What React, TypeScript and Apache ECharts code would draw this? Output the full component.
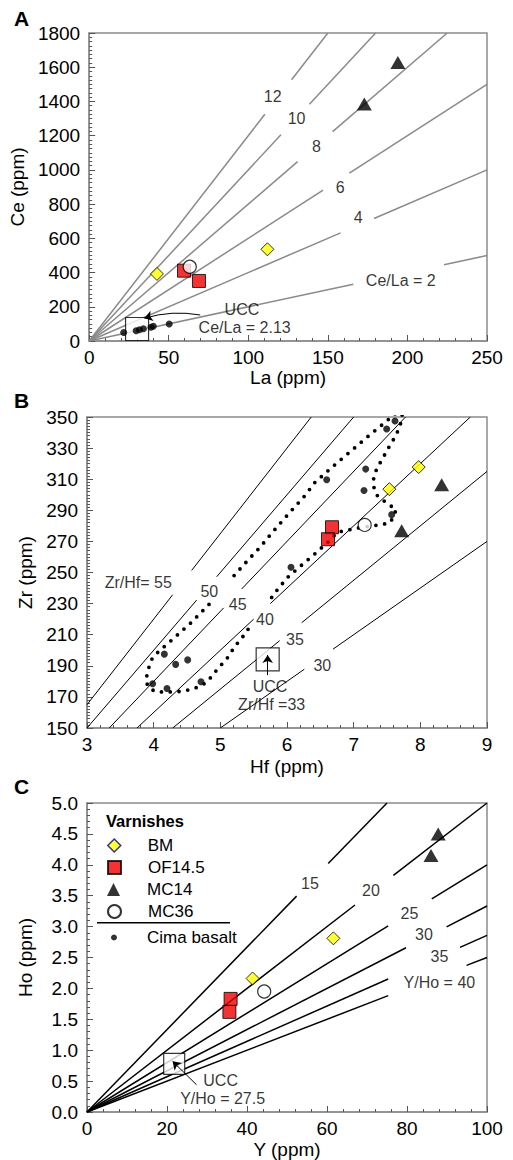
import React, { useEffect, useRef } from "react";
import * as echarts from "echarts";

const FONT = "'Liberation Sans', Arial, Helvetica, sans-serif";
const FRAME = "#8c8c8c";
const TICK = "#555";
const YELLOW = "#ffff00";
const RED = "#f00000";

// ---------- Panel A : Ce vs La ----------
const ceLaRatios = [2, 4, 6, 8, 10, 12];
const ceLaGaps = [[166, 223], [158, 179], [147, 163.5], [131, 153], [120.5, 138.4], [110.4, 127.2]];
const aBM = [[42.6, 392], [112, 536]];
const aOF = [[59.6, 411], [69, 351]];
const aMC14 = [[194, 1627], [172.9, 1385]];
const aMC36 = [[63.2, 434]];
const aCima = [[21.7, 50], [29.5, 60], [31.6, 66], [34.1, 72], [38.8, 80], [40.3, 86], [50.3, 99]];
const aUCC = [[30.1, 70]];
const aLabels = [
  { name: "12", value: [115.3, 1426] },
  { name: "10", value: [130.3, 1303] },
  { name: "8", value: [142.8, 1134] },
  { name: "6", value: [157.7, 900] },
  { name: "4", value: [169, 719] },
  { name: "Ce/La = 2", value: [195.8, 351] },
  { name: "UCC", value: [96, 185] },
  { name: "Ce/La = 2.13", value: [97.7, 78] },
];
const aArrow = [[69.8, 152], [34.7, 133]];

// ---------- Panel B : Zr vs Hf ----------
const zrHfRatios = [30, 35, 40, 45, 50, 55];
const zrHfGaps = [[6.26, 6.69], [5.89, 6.22], [5.5, 5.75], [5.05, 5.32], [4.645, 4.945], [4.285, 4.57]];
const bBM = [[7.975, 317.8], [7.535, 303.6]];
const bOF = [[6.675, 279.1], [6.615, 271.4]];
const bMC14 = [[8.32, 306.4], [7.72, 276.9]];
const bMC36 = [[7.165, 280.6]];
const bUCC = [[5.71, 194.1]];
const bCima = [
  [7.62, 347.4], [7.495, 342.3], [7.18, 316.5], [6.595, 309.6], [7.155, 302.7], [7.57, 287.2],
  [6.06, 253.4], [4.16, 197.5], [4.33, 190.9], [4.51, 193.8], [3.985, 178.4], [4.2, 175.4], [4.71, 179.7],
];
const bEnvelopeUpper = [
  [7.62, 352], [7.4, 344], [7.2, 337], [7.0, 329.6], [6.81, 322.7], [6.62, 315.6], [6.42, 308],
  [6.27, 299.5], [6.1, 291.4], [5.93, 283.2], [5.76, 274.8], [5.6, 266.4], [5.42, 258.2], [5.17, 246.3],
];
const bEnvelopeLow = [
  [4.83, 229.5], [4.56, 217.7], [4.27, 206.5], [4.08, 199.4], [3.98, 195], [3.92, 188], [3.88, 180],
  [3.94, 175.4], [4.04, 173.2], [4.28, 173.2], [4.42, 173.6], [4.55, 174.7], [4.68, 176.5], [4.8, 179.5],
  [4.95, 187.5], [5.1, 194.7], [5.22, 202.6], [5.33, 208.3], [5.45, 215.5],
];
const bEnvelopeRight = [
  [5.77, 234], [5.87, 239.8], [6.02, 247.3], [6.21, 254.4], [6.41, 261.7], [6.6, 269], [6.76, 276],
  [6.93, 277.4], [7.05, 278.5], [7.31, 280.2], [7.44, 281], [7.55, 282.1], [7.6, 286.4], [7.64, 290.7],
  [7.53, 293.5], [7.34, 300], [7.3, 305.3], [7.3, 310.7], [7.34, 316], [7.4, 320.8], [7.46, 325.3],
  [7.52, 330], [7.59, 335], [7.65, 339.7], [7.7, 345], [7.73, 352],
];
const bLabels = [
  { name: "Zr/Hf= 55", value: [3.77, 243.4] },
  { name: "50", value: [4.835, 237.6] },
  { name: "45", value: [5.26, 229.7] },
  { name: "40", value: [5.67, 219.8] },
  { name: "35", value: [6.12, 207] },
  { name: "30", value: [6.53, 190.4] },
  { name: "UCC", value: [5.745, 176.9] },
  { name: "Zr/Hf =33", value: [5.77, 165.3] },
];
const bArrow = [[5.71, 184], [5.71, 197]];

// ---------- Panel C : Ho vs Y ----------
const yHoRatios = [15, 20, 25, 30, 35, 40];
const yHoGaps = [[52.4, 60.3], [67, 76.6], [75.3, 86.2], [79.75, 89.9], [75.3, 93.25], [75.3, 94.9]];
const cBM = [[41.4, 2.16], [61.6, 2.81]];
const cOF = [[35.9, 1.83], [35.6, 1.62]];
const cMC14 = [[87.8, 4.5], [86, 4.15]];
const cMC36 = [[44.3, 1.95]];
const cUCC = [[21.8, 0.78]];
const cLabels = [
  { name: "15", value: [55.75, 3.69] },
  { name: "20", value: [71, 3.586] },
  { name: "25", value: [80.6, 3.22] },
  { name: "30", value: [84.25, 2.87] },
  { name: "35", value: [88.1, 2.51] },
  { name: "Y/Ho = 40", value: [88.1, 2.1] },
  { name: "UCC", value: [33.4, 0.51] },
  { name: "Y/Ho = 27.5", value: [33.9, 0.215] },
];
const cArrow = [[27.4, 0.44], [21.4, 0.82]];

const legendNames = ["BM", "OF14.5", "MC14", "MC36"];
const legendTops = [837, 859, 881, 903];

function segments(slopes: number[], gaps: number[][], xMin: number, xMax: number, yMin: number, yMax: number) {
  return slopes.flatMap((s, i) => {
    const lo = Math.max(xMin, yMin / s);
    const hi = Math.min(xMax, yMax / s);
    const [g1, g2] = gaps[i];
    return [
      { coords: [[lo, s * lo], [g1, s * g1]] },
      { coords: [[g2, s * g2], [hi, s * hi]] },
    ];
  });
}

function xAxis(idx: number, min: number, max: number, interval: number, name: string, nameGap: number) {
  return {
    gridIndex: idx, type: "value", min, max, interval, name, nameLocation: "middle", nameGap,
    nameTextStyle: { fontSize: 19, color: "#000", fontFamily: FONT },
    axisLine: { show: true, onZero: false, lineStyle: { color: FRAME, width: 1.5 } },
    axisTick: { show: true, inside: true, length: 6, lineStyle: { color: TICK, width: 1 } },
    minorTick: { show: true, splitNumber: 5, length: 3, lineStyle: { color: TICK, width: 1 } },
    splitLine: { show: false },
    axisLabel: { fontSize: 19, color: "#000", fontFamily: FONT, margin: 7 },
  };
}

function yAxis(idx: number, min: number, max: number, interval: number, minor: number, name: string, dec: number) {
  return {
    gridIndex: idx, type: "value", min, max, interval, name, nameLocation: "middle", nameGap: 52,
    nameTextStyle: { fontSize: 19, color: "#000", fontFamily: FONT },
    axisLine: { show: true, onZero: false, lineStyle: { color: FRAME, width: 1.5 } },
    axisTick: { show: true, inside: true, length: 6, lineStyle: { color: TICK, width: 1 } },
    minorTick: { show: true, splitNumber: minor, length: 3, lineStyle: { color: TICK, width: 1 } },
    splitLine: { show: false },
    axisLabel: {
      fontSize: 19, color: "#000", fontFamily: FONT, margin: 9,
      formatter: (v: number) => v.toFixed(dec),
    },
  };
}

function markers(i: number, bm: number[][], of: number[][], mc14: number[][], mc36: number[][]) {
  const base = { type: "scatter", xAxisIndex: i, yAxisIndex: i, z: 6, silent: true };
  return [
    { ...base, name: "BM", data: bm, symbol: "diamond", symbolSize: 13, itemStyle: { color: YELLOW, borderColor: "#000", borderWidth: 1 } },
    { ...base, name: "OF14.5", data: of, symbol: "rect", symbolSize: 13, itemStyle: { color: RED, borderColor: "#000", borderWidth: 1 } },
    { ...base, name: "MC36", data: mc36, symbol: "circle", symbolSize: 13, itemStyle: { color: "#fff", borderColor: "#000", borderWidth: 1.2 } },
    { ...base, name: "MC14", data: mc14, symbol: "triangle", symbolSize: [15, 13], itemStyle: { color: "#000" } },
  ];
}

function labelSeries(i: number, data: any[]) {
  return {
    type: "scatter", name: "labels" + i, xAxisIndex: i, yAxisIndex: i, symbolSize: 0, z: 7, silent: true,
    data,
    label: { show: true, position: "inside", formatter: "{b}", fontSize: 16, color: "#000", fontFamily: FONT },
  };
}

function ratioSeries(i: number, data: any[], color: string, width: number) {
  return {
    type: "lines", coordinateSystem: "cartesian2d", xAxisIndex: i, yAxisIndex: i, z: 1, silent: true,
    data, symbol: "none", lineStyle: { color, width, opacity: 1 },
  };
}

function arrowSeries(i: number, coords: number[][], curveness: number) {
  return {
    type: "lines", coordinateSystem: "cartesian2d", xAxisIndex: i, yAxisIndex: i, z: 5, silent: true,
    data: [{ coords }], symbol: ["none", "arrow"], symbolSize: 8,
    lineStyle: { color: "#000", width: 1, curveness, opacity: 1 },
  };
}

function uccSeries(i: number, data: number[][], size: number) {
  return {
    type: "scatter", name: "UCC" + i, xAxisIndex: i, yAxisIndex: i, z: 3, silent: true, data,
    symbol: "rect", symbolSize: size, itemStyle: { color: "#fff", borderColor: "#000", borderWidth: 1.2 },
  };
}

function dottedSeries(data: number[][]) {
  return {
    type: "line", xAxisIndex: 1, yAxisIndex: 1, z: 2, silent: true, data, showSymbol: false, symbol: "none",
    lineStyle: { color: "#000", width: 3.8, type: [0, 8.8], cap: "round" },
  };
}

export default function App() {
  const ref = useRef<HTMLDivElement>(null);
  useEffect(() => {
    if (!ref.current) return;
    const chart = echarts.init(ref.current, null, { renderer: "svg" });
    const panelLetter = (t: string, y: number) => ({
      type: "text", left: 14, top: y - 11,
      style: { text: t, fill: "#000", font: `bold 21px ${FONT}` },
    });
    const itemLegends = legendNames.map((n, k) => ({
      data: [n === "BM" ? { name: n, itemStyle: { borderColor: "#00008b", borderWidth: 1.5 } } : { name: n }],
      orient: "vertical", left: 107, top: legendTops[k], padding: 0, itemWidth: 13, itemHeight: 13,
      selectedMode: false,
      textStyle: { fontSize: 17, color: "#000", fontFamily: FONT, lineHeight: 14, padding: [0, 0, 0, 22] },
    }));
    const option: any = {
      animation: false,
      textStyle: { fontFamily: FONT },
      grid: [
        { left: 87, top: 33, width: 400, height: 308, show: true, borderColor: FRAME, borderWidth: 1.5 },
        { left: 87, top: 417, width: 400, height: 311, show: true, borderColor: FRAME, borderWidth: 1.5 },
        { left: 87, top: 803, width: 400, height: 309, show: true, borderColor: FRAME, borderWidth: 1.5 },
      ],
      xAxis: [
        xAxis(0, 0, 250, 50, "La (ppm)", 24),
        xAxis(1, 3, 9, 1, "Hf (ppm)", 29),
        xAxis(2, 0, 100, 20, "Y (ppm)", 28),
      ],
      yAxis: [
        yAxis(0, 0, 1800, 200, 8, "Ce (ppm)", 0),
        yAxis(1, 150, 350, 20, 10, "Zr (ppm)", 0),
        yAxis(2, 0, 5, 0.5, 5, "Ho (ppm)", 1),
      ],
      legend: [
        ...itemLegends,
        {
          data: ["Cima basalt"], orient: "vertical", left: 111, top: 929, padding: 0, itemWidth: 6, itemHeight: 6,
          selectedMode: false,
          textStyle: { fontSize: 17, color: "#000", fontFamily: FONT, lineHeight: 17, padding: [0, 0, 0, 25] },
        },
      ],
      graphic: [
        panelLetter("A", 19),
        panelLetter("B", 401),
        panelLetter("C", 787),
        {
          type: "text", left: 106, top: 812,
          style: { text: "Varnishes", font: `bold 16.5px ${FONT}`, fill: "#000" },
        },
        {
          type: "line", shape: { x1: 97, y1: 922.7, x2: 230, y2: 922.7 },
          style: { stroke: "#000", lineWidth: 1.5 },
        },
      ],
      series: [
        // Panel A
        ratioSeries(0, segments(ceLaRatios, ceLaGaps, 0, 250, 0, 1800), "#8a8a8a", 1.5),
        uccSeries(0, aUCC, 23),
        arrowSeries(0, aArrow, -0.12),
        {
          type: "scatter", name: "Cima basalt", xAxisIndex: 0, yAxisIndex: 0, z: 4, silent: true,
          data: aCima, symbol: "circle", symbolSize: 7, itemStyle: { color: "#000" },
        },
        ...markers(0, aBM, aOF, aMC14, aMC36),
        labelSeries(0, aLabels),
        // Panel B
        ratioSeries(1, segments(zrHfRatios, zrHfGaps, 3, 9, 150, 350), "#000", 1),
        dottedSeries(bEnvelopeUpper),
        dottedSeries(bEnvelopeLow),
        dottedSeries(bEnvelopeRight),
        uccSeries(1, bUCC, 23),
        arrowSeries(1, bArrow, 0),
        {
          type: "scatter", name: "Cima basalt", xAxisIndex: 1, yAxisIndex: 1, z: 4, silent: true,
          data: bCima, symbol: "circle", symbolSize: 7, itemStyle: { color: "#000" },
        },
        ...markers(1, bBM, bOF, bMC14, bMC36),
        labelSeries(1, bLabels),
        // Panel C
        ratioSeries(2, segments(yHoRatios.map((r) => 1 / r), yHoGaps, 0, 100, 0, 5), "#000", 1.5),
        uccSeries(2, cUCC, 21),
        arrowSeries(2, cArrow, 0),
        ...markers(2, cBM, cOF, cMC14, cMC36),
        labelSeries(2, cLabels),
      ],
    };
    chart.setOption(option);
    return () => chart.dispose();
  }, []);
  return <div ref={ref} style={{ position: "absolute", left: 0, top: 0, width: 513, height: 1160 }} />;
}
